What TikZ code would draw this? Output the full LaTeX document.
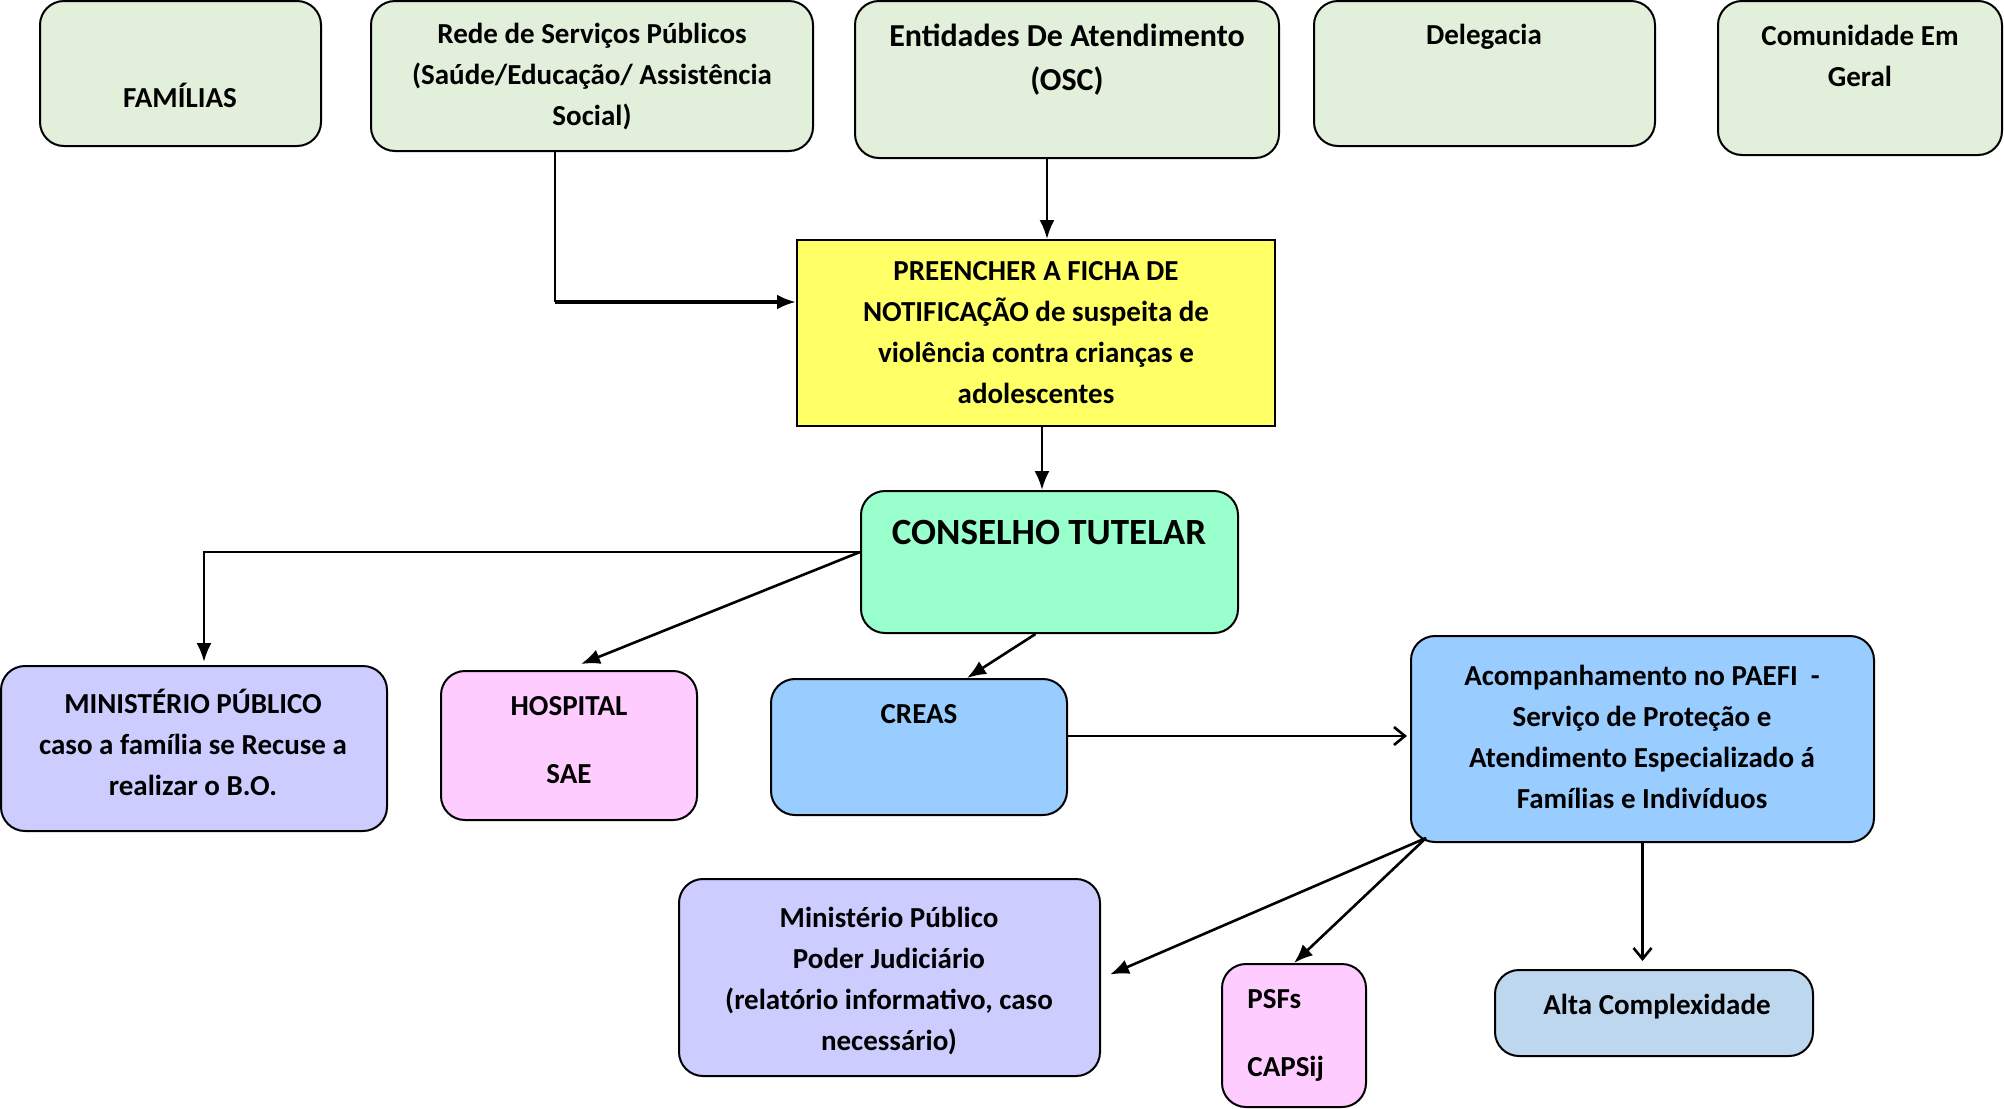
\documentclass[tikz,border=0pt]{standalone}
\usepackage{fontspec}
\setmainfont{Carlito}
\usetikzlibrary{arrows.meta,calc}

\definecolor{verdeclaro}{HTML}{E2EFDA}
\definecolor{amarelo}{HTML}{FFFF66}
\definecolor{verdeagua}{HTML}{99FFCC}
\definecolor{lilas}{HTML}{CCCCFF}
\definecolor{rosa}{HTML}{FFCCFF}
\definecolor{azul}{HTML}{99CCFF}
\definecolor{azulcinza}{HTML}{BDD7EE}

\tikzset{
  caixa/.style={draw=black, line width=1pt, rounded corners=12pt, inner sep=0pt},
  txt/.style={font=\fontsize{14.5}{20.5}\selectfont\bfseries, align=center, inner sep=0pt},
  seta/.style={line width=1.3pt, -{Latex[length=9.5pt,width=7.5pt]}},
  setaaberta/.style={line width=1.3pt, -{Straight Barb[length=5.5pt,width=9pt]}}
}

\begin{document}
\begin{tikzpicture}[x=0.5pt,y=-0.5pt]
  \useasboundingbox (0,0) rectangle (2004,1109);

  % Origem das notificacoes
  \node[caixa, fill=verdeclaro, minimum width=140.5pt, minimum height=72.5pt] (familias) at (180.5,73.5) {};
  \node[txt] (familiastxt) at (180,95) {FAMÍLIAS};
  \node[caixa, fill=verdeclaro, minimum width=221pt, minimum height=75pt] (rede) at (592,76) {};
  \node[txt] (redetxt) at (592,77) {Rede de Serviços Públicos\\(Saúde/Educação/ Assistência\\Social)};
  \node[caixa, fill=verdeclaro, minimum width=212pt, minimum height=78.5pt] (entidades) at (1067,79.5) {};
  \node[txt, font=\fontsize{16}{22}\selectfont\bfseries] (entidadestxt) at (1067,60) {Entidades De Atendimento\\(OSC)};
  \node[caixa, fill=verdeclaro, minimum width=170.5pt, minimum height=72.5pt] (delegacia) at (1484.5,73.5) {};
  \node[txt] (delegaciatxt) at (1484,37) {Delegacia};
  \node[caixa, fill=verdeclaro, minimum width=142pt, minimum height=77pt] (comunidade) at (1860,78) {};
  \node[txt] (comunidadetxt) at (1860,56) {Comunidade Em\\Geral};

  % Ficha
  \node[draw=black, line width=1pt, fill=amarelo, minimum width=239pt, minimum height=93pt] (ficha) at (1036,333) {};
  \node[txt] (fichatxt) at (1036,333) {PREENCHER A FICHA DE\\NOTIFICAÇÃO de suspeita de\\violência contra crianças e\\adolescentes};

  % Conselho e encaminhamentos
  \node[caixa, fill=verdeagua, minimum width=188.5pt, minimum height=71pt] (conselho) at (1049.5,562) {};
  \node[txt, font=\fontsize{18.5}{22}\selectfont\bfseries] (conselhotxt) at (1049,532) {CONSELHO TUTELAR};
  \node[caixa, fill=lilas, minimum width=193pt, minimum height=82.5pt] (mp) at (194,748.5) {};
  \node[txt] (mptxt) at (193,742) {MINISTÉRIO PÚBLICO\\caso a família se Recuse a\\realizar o B.O.};
  \node[caixa, fill=rosa, minimum width=128pt, minimum height=74.5pt] (hospital) at (569,745.5) {};
  \node[txt] (hospitaltxt) at (569,740) {HOSPITAL\\[13.5pt]SAE};
  \node[caixa, fill=azul, minimum width=148pt, minimum height=68pt] (creas) at (919,747) {};
  \node[txt] (creastxt) at (919,714) {CREAS};
  \node[caixa, fill=azul, minimum width=231.5pt, minimum height=103pt] (paefi) at (1642.5,739) {};
  \node[txt] (paefitxt) at (1642,737) {Acompanhamento no PAEFI~~-\\Serviço de Proteção e\\Atendimento Especializado á\\Famílias e Indivíduos};

  % Acompanhamento
  \node[caixa, fill=lilas, minimum width=210.5pt, minimum height=98.5pt] (mpj) at (889.5,977.5) {};
  \node[txt] (mpjtxt) at (889,981) {Ministério Público\\Poder Judiciário\\(relatório informativo, caso\\necessário)};
  \node[caixa, fill=rosa, minimum width=72pt, minimum height=71.5pt] (psf) at (1294,1035.5) {};
  \node[txt, align=left, anchor=west] (psftxt) at (1247,1035) {PSFs\\[13.5pt]CAPSij};
  \node[caixa, fill=azulcinza, minimum width=159pt, minimum height=43pt] (alta) at (1654,1013) {};
  \node[txt] (altatxt) at (1657,1007) {Alta Complexidade};

  % Setas
  \coordinate (redevolta) at (555,302);
  \coordinate (entdesce) at (1047,0);
  \coordinate (fichadesce) at (1042,0);
  \coordinate (conselhosai) at ($(conselho.west)+(0,-10)$);
  \coordinate (creassai) at ($(creas.east)+(0,-11)$);
  \coordinate (paefisai) at ($(paefi.south west)+(16,-5)$);

  \draw[line width=1pt] (rede.south -| redevolta) -- (redevolta);
  \draw[seta, line width=1.8pt] (redevolta) -- (redevolta -| ficha.west);
  \draw[seta] (entidades.south -| entdesce) -- (ficha.north -| entdesce);
  \draw[seta] (ficha.south -| fichadesce) -- (conselho.north -| fichadesce);
  \draw[seta] (conselhosai) -| ($(mp.north)+(10,-3)$);
  \draw[seta] (conselhosai) -- ($(hospital.north)+(12,-6)$);
  \draw[seta] ($(conselho.south)+(-14,0)$) -- ($(creas.north)+(48,0)$);
  \draw[setaaberta, shorten >=1.5pt] (creassai) -- (creassai -| paefi.west);
  \draw[seta] (paefisai) -- ($(mpj.east)+(9,-3)$);
  \draw[seta] (paefisai) -- (psf.north);
  \draw[setaaberta, shorten >=4pt] (paefi.south) -- (paefi.south |- alta.north);
\end{tikzpicture}
\end{document}
